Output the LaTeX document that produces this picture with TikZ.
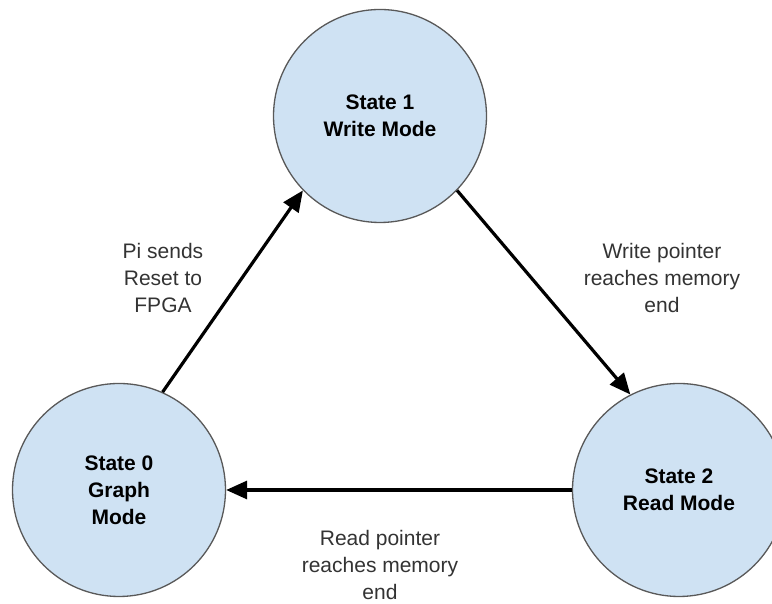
\documentclass[tikz,border=0pt]{standalone}
\usepackage{fontspec}
\setmainfont{Liberation Sans}
\usepackage{xcolor}
\usetikzlibrary{arrows.meta,positioning}

\definecolor{statefill}{HTML}{CFE2F3}
\definecolor{stateline}{HTML}{595959}

\tikzset{
  state/.style={circle, draw=stateline, line width=1.3pt, fill=statefill,
    minimum size=213pt, inner sep=0pt, align=center,
    font=\fontsize{21}{27}\selectfont\bfseries},
  trans/.style={draw, line width=3.2pt, -{Triangle[length=21pt,width=18pt]}},
  cond/.style={align=center, inner sep=0pt, text=black!80,
    font=\fontsize{21}{27}\selectfont}
}

\begin{document}
\begin{tikzpicture}[x=1pt,y=1pt]
\useasboundingbox (0,0) rectangle (772,604);
% nodes
 \node[state] (s0) at (119,114) {State 0\\Graph\\Mode};%
 \node[state] (s1) at (380,488) {State 1\\Write Mode};%
 \node[state] (s2) at (679,114) {State 2\\Read Mode};%
% labels
 \node[cond] (c01) at (163,326) {Pi sends\\Reset to\\FPGA};%
 \node[cond] (c12) at (662,326) {Write pointer\\reaches memory\\end};%
 \node[cond] (c20) at (380,39) {Read pointer\\reaches memory\\end};%
% edges
 \draw[trans] (s0.66) -- (s1.224);
 \draw[trans] (s1.316) -- (s2.117);
 \draw[trans] (s2.west) -- (s0.east);
\end{tikzpicture}
\end{document}
